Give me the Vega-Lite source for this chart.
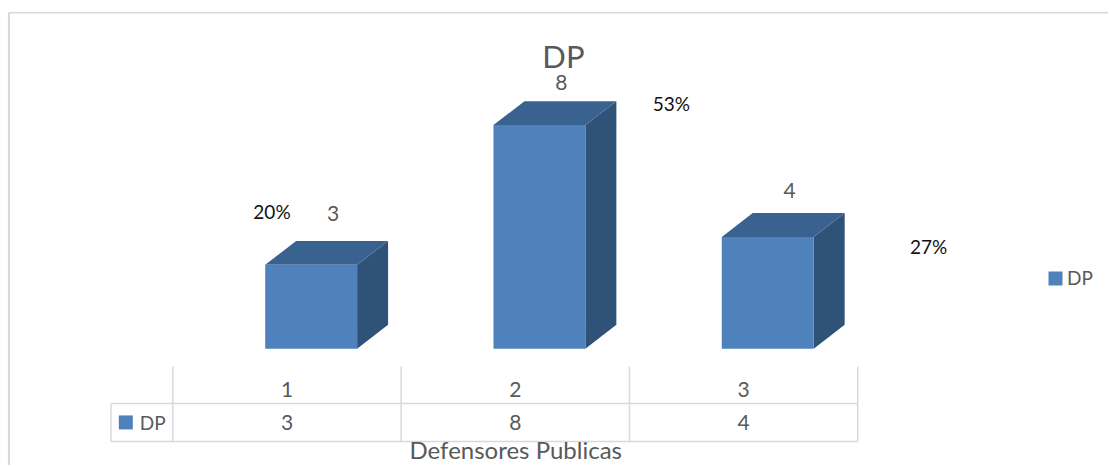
{
"$schema":"https://vega.github.io/schema/vega-lite/v6.json",
"width":1109,"height":466,
"autosize":{"type":"fit","contains":"padding"},
"padding":0,
"background":"white",
"config":{"view":{"stroke":null},"axis":{"disable":true},"text":{"font":"Lato"}},
"data":{"values":[
{"cat":1,"value":3,"pct":"20%","series":"DP"},
{"cat":2,"value":8,"pct":"53%","series":"DP"},
{"cat":3,"value":4,"pct":"27%","series":"DP"}
]},
"transform":[
{"calculate":"datum.cat-1+0.4045","as":"x0"},
{"calculate":"datum.x0+0.4026","as":"x1"},
{"calculate":"datum.cat-0.5","as":"mid"}
],
"layer":[
{"data":{"values":[{"name":"frame"}]},"mark":{"type":"rule","stroke":"#d9d9d9","strokeWidth":1.5},
 "encoding":{"x":{"datum":-0.718,"type":"quantitative","scale":{"domain":[-0.7571,4.0963],"nice":false,"zero":false}},"x2":{"datum":4.0963},
 "y":{"datum":12.02,"type":"quantitative","scale":{"domain":[-4.164,12.478],"nice":false,"zero":false}}}},
{"data":{"values":[{"name":"frame"}]},"mark":{"type":"rule","stroke":"#d9d9d9","strokeWidth":2},
 "encoding":{"x":{"datum":-0.718,"type":"quantitative"},"y":{"datum":12.02,"type":"quantitative"},"y2":{"datum":-4.164}}},
{"mark":{"type":"rule","stroke":"#d9d9d9","strokeWidth":1.5},
 "encoding":{"x":{"field":"cat","type":"quantitative"},"y":{"datum":-0.643,"type":"quantitative"},"y2":{"datum":-3.321}}},
{"data":{"values":[{"name":"first"}]},"mark":{"type":"rule","stroke":"#d9d9d9","strokeWidth":1.5},
 "encoding":{"x":{"datum":0,"type":"quantitative"},"y":{"datum":-0.643,"type":"quantitative"},"y2":{"datum":-3.321}}},
{"data":{"values":[{"name":"left"}]},"mark":{"type":"rule","stroke":"#d9d9d9","strokeWidth":1.5},
 "encoding":{"x":{"datum":-0.271,"type":"quantitative"},"y":{"datum":-1.964,"type":"quantitative"},"y2":{"datum":-3.321}}},
{"data":{"values":[{"name":"h1"}]},"mark":{"type":"rule","stroke":"#d9d9d9","strokeWidth":1.5},
 "encoding":{"x":{"datum":-0.271,"type":"quantitative"},"x2":{"datum":3},"y":{"datum":-1.964,"type":"quantitative"}}},
{"data":{"values":[{"name":"h2"}]},"mark":{"type":"rule","stroke":"#d9d9d9","strokeWidth":1.5},
 "encoding":{"x":{"datum":-0.271,"type":"quantitative"},"x2":{"datum":3},"y":{"datum":-3.321,"type":"quantitative"}}},
{"transform":[{"calculate":"[0,1]","as":"t"},{"flatten":["t"]},
  {"calculate":"datum.x1+0.1357*datum.t","as":"sx"},
  {"calculate":"0.857*datum.t","as":"sy0"},
  {"calculate":"datum.value+0.857*datum.t","as":"sy1"}],
 "mark":{"type":"area","orient":"vertical","fill":"#2f5279"},
 "encoding":{"x":{"field":"sx","type":"quantitative"},"y":{"field":"sy0","type":"quantitative"},"y2":{"field":"sy1"},"detail":{"field":"cat"}}},
{"transform":[{"calculate":"[0,1]","as":"t"},{"flatten":["t"]},
  {"calculate":"datum.x0+0.1357*datum.t","as":"tx0"},
  {"calculate":"datum.x1+0.1357*datum.t","as":"tx1"},
  {"calculate":"datum.value+0.857*datum.t","as":"ty"}],
 "mark":{"type":"area","orient":"horizontal","fill":"#3a6291"},
 "encoding":{"x":{"field":"tx0","type":"quantitative"},"x2":{"field":"tx1"},"y":{"field":"ty","type":"quantitative"},"detail":{"field":"cat"}}},
{"mark":{"type":"rect"},
 "encoding":{"x":{"field":"x0","type":"quantitative"},"x2":{"field":"x1"},"y":{"field":"value","type":"quantitative"},"y2":{"datum":0},
 "color":{"field":"series","type":"nominal","scale":{"range":["#4f81bd"]},
  "legend":{"title":null,"orient":"none","legendX":1046,"legendY":269,"symbolType":"square","symbolSize":196,"symbolStrokeWidth":0,"labelFont":"Lato","labelFontSize":19,"labelColor":"#595959","labelOffset":2}}}},
{"transform":[{"filter":"datum.cat==1"}],"mark":{"type":"text","fontSize":21,"color":"#595959","dx":46,"dy":-50},
 "encoding":{"x":{"field":"mid","type":"quantitative"},"y":{"field":"value","type":"quantitative"},"text":{"field":"value"}}},
{"transform":[{"filter":"datum.cat==2"}],"mark":{"type":"text","fontSize":21,"color":"#595959","dx":46,"dy":-41},
 "encoding":{"x":{"field":"mid","type":"quantitative"},"y":{"field":"value","type":"quantitative"},"text":{"field":"value"}}},
{"transform":[{"filter":"datum.cat==3"}],"mark":{"type":"text","fontSize":21,"color":"#595959","dx":46,"dy":-45},
 "encoding":{"x":{"field":"mid","type":"quantitative"},"y":{"field":"value","type":"quantitative"},"text":{"field":"value"}}},
{"transform":[{"filter":"datum.cat==1"}],"mark":{"type":"text","fontSize":19,"color":"#111111","dx":-15,"dy":-52},
 "encoding":{"x":{"field":"mid","type":"quantitative"},"y":{"field":"value","type":"quantitative"},"text":{"field":"pct"}}},
{"transform":[{"filter":"datum.cat==2"}],"mark":{"type":"text","fontSize":19,"color":"#111111","dx":156,"dy":-20},
 "encoding":{"x":{"field":"mid","type":"quantitative"},"y":{"field":"value","type":"quantitative"},"text":{"field":"pct"}}},
{"transform":[{"filter":"datum.cat==3"}],"mark":{"type":"text","fontSize":19,"color":"#111111","dx":185,"dy":11},
 "encoding":{"x":{"field":"mid","type":"quantitative"},"y":{"field":"value","type":"quantitative"},"text":{"field":"pct"}}},
{"mark":{"type":"text","fontSize":21,"color":"#595959"},
 "encoding":{"x":{"field":"mid","type":"quantitative"},"y":{"datum":-1.5,"type":"quantitative"},"text":{"field":"cat"}}},
{"mark":{"type":"text","fontSize":21,"color":"#595959"},
 "encoding":{"x":{"field":"mid","type":"quantitative"},"y":{"datum":-2.68,"type":"quantitative"},"text":{"field":"value"}}},
{"data":{"values":[{"series":"DP"}]},"mark":{"type":"point","shape":"square","filled":true,"size":196,"opacity":1,"color":"#4f81bd"},
 "encoding":{"x":{"datum":-0.206,"type":"quantitative"},"y":{"datum":-2.64,"type":"quantitative"}}},
{"data":{"values":[{"series":"DP"}]},"mark":{"type":"text","fontSize":19,"color":"#595959","align":"left"},
 "encoding":{"x":{"datum":-0.145,"type":"quantitative"},"y":{"datum":-2.68,"type":"quantitative"},"text":{"field":"series"}}},
{"data":{"values":[{"series":"DP"}]},"mark":{"type":"text","fontSize":31,"color":"#595959"},
 "encoding":{"x":{"datum":1.711,"type":"quantitative"},"y":{"datum":10.38,"type":"quantitative"},"text":{"field":"series"}}},
{"data":{"values":[{"axis":"Defensores Publicas"}]},"mark":{"type":"text","fontSize":24,"color":"#595959"},
 "encoding":{"x":{"datum":1.502,"type":"quantitative"},"y":{"datum":-3.71,"type":"quantitative"},"text":{"field":"axis"}}}
]
}
